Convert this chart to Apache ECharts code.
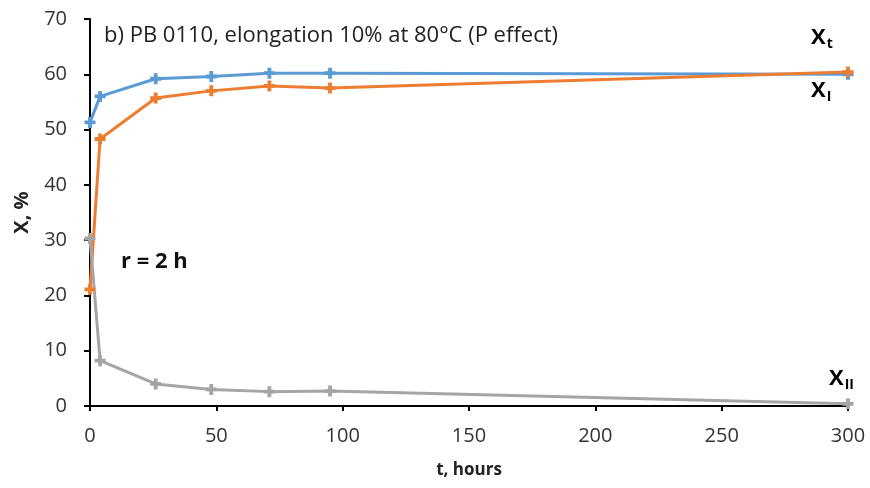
<!DOCTYPE html>
<html>
<head>
<meta charset="utf-8">
<script src="https://cdn.jsdelivr.net/npm/echarts@6/dist/echarts.min.js"></script>
<style>html,body{margin:0;padding:0;background:#fff}#c{width:870px;height:488px}</style>
</head>
<body>
<div id="c"></div>
<script>
// time after start of ageing, hours
const hours = [0, 4, 26, 48, 71, 95, 300];
// fraction of total, phase I and phase II (%)
const xTotal = [51.3, 56.0, 59.2, 59.6, 60.2, 60.2, 60.0];
const xPhaseI = [21.1, 48.3, 55.7, 57.0, 57.9, 57.5, 60.4];
const xPhaseII = [30.3, 8.2, 4.0, 3.0, 2.6, 2.7, 0.4];
const xTicks = [0, 50, 100, 150, 200, 250, 300];
const yTicks = [0, 10, 20, 30, 40, 50, 60, 70];

const chart = echarts.init(document.getElementById('c'));
// small thick cross used as point marker
const marker = 'path://M2.6,0H5.4V2.6H8V5.4H5.4V8H2.6V5.4H0V2.6H2.6Z';
const pairs = (ys) => hours.map((h, i) => [h, ys[i]]);
const mkSeries = (name, ys, color) => ({
  name, type: 'line', data: pairs(ys),
  symbol: marker, symbolSize: 11,
  lineStyle: { color, width: 3 },
  itemStyle: { color },
  z: 3
});
const labelFont = '"Open Sans", sans-serif';
const richSub = {
  b: { fontFamily: labelFont, fontWeight: 'bold', fontSize: 22, color: '#111' },
  s: { fontFamily: labelFont, fontWeight: 'bold', fontSize: 14, color: '#111', padding: [12, 0, 0, 1] }
};

chart.setOption({
  animation: false,
  grid: { left: 90, right: 22, top: 19, bottom: 82, containLabel: false, outerBoundsMode: 'none' },
  xAxis: {
    type: 'value', min: xTicks[0], max: xTicks[xTicks.length - 1], interval: 50,
    name: 't, hours', nameLocation: 'middle', nameGap: 56,
    nameTextStyle: { fontFamily: labelFont, fontWeight: 'bold', fontSize: 17, color: '#222' },
    axisLine: { lineStyle: { color: '#000', width: 2 } },
    axisTick: { show: true, inside: false, length: 5, lineStyle: { color: '#000', width: 2 } },
    axisLabel: { fontFamily: labelFont, fontSize: 20, color: '#333', margin: 20 },
    splitLine: { show: false }
  },
  yAxis: {
    type: 'value', min: yTicks[0], max: yTicks[yTicks.length - 1], interval: 10,
    name: 'X, %', nameLocation: 'middle', nameGap: 58, nameRotate: 90,
    nameTextStyle: { fontFamily: labelFont, fontWeight: 'bold', fontSize: 20, color: '#222' },
    axisLine: { show: true, lineStyle: { color: '#000', width: 2 } },
    axisTick: { show: true, inside: false, length: 6, lineStyle: { color: '#000', width: 2 } },
    axisLabel: { fontFamily: labelFont, fontSize: 20, color: '#333', margin: 23 },
    splitLine: { show: false }
  },
  series: [
    mkSeries('Xt', xTotal, '#5B9BD5'),
    mkSeries('XI', xPhaseI, '#ED7D31'),
    mkSeries('XII', xPhaseII, '#A5A5A5')
  ],
  graphic: [
    { type: 'text', left: 104, top: 25, style: { text: 'b) PB 0110, elongation 10% at 80°C (P effect)', font: '22px "Open Sans", sans-serif', fill: '#222' } },
    { type: 'text', left: 121, top: 251, style: { text: 'r = 2 h', font: 'bold 22px "Open Sans", sans-serif', fill: '#111' } },
    { type: 'text', left: 811, top: 27, style: { text: '{b|X}{s|t}', rich: richSub } },
    { type: 'text', left: 811, top: 80, style: { text: '{b|X}{s|I}', rich: richSub } },
    { type: 'text', left: 829, top: 368, style: { text: '{b|X}{s|II}', rich: richSub } }
  ]
});
</script>
</body>
</html>
